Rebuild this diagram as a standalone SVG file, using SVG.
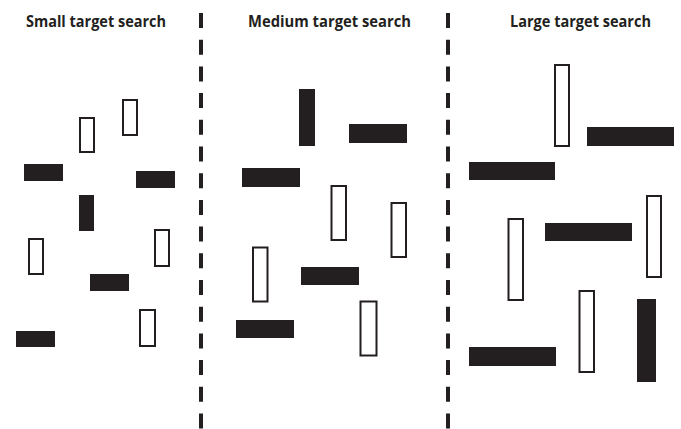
<svg xmlns="http://www.w3.org/2000/svg" width="681" height="429" viewBox="0 0 681 429">
<style>
.t{font-family:"Open Sans","Liberation Sans",sans-serif;font-weight:bold;font-size:15.5px;fill:#231f20}
.f{fill:#231f20}
.o{fill:#fff;stroke:#231f20;stroke-width:2}
.d{stroke:#231f20;stroke-width:4;stroke-dasharray:15 11.7;fill:none}
</style>
<rect width="681" height="429" fill="#fff"/>
<g id="connectors">
<line class="d" x1="201" y1="13" x2="201" y2="429"/>
<line class="d" x1="448" y1="13" x2="448" y2="429"/>
</g>
<g id="title-small"><text class="t" x="26" y="27" textLength="140" lengthAdjust="spacingAndGlyphs">Small target search</text></g>
<g id="title-medium"><text class="t" x="248" y="27" textLength="163" lengthAdjust="spacingAndGlyphs">Medium target search</text></g>
<g id="title-large"><text class="t" x="510" y="27" textLength="141" lengthAdjust="spacingAndGlyphs">Large target search</text></g>
<g id="small">
<rect class="o" x="80" y="118" width="14" height="34"/>
<rect class="o" x="123" y="100" width="14" height="35"/>
<rect class="f" x="24" y="164" width="39" height="17"/>
<rect class="f" x="136" y="171" width="39" height="17"/>
<rect class="f" x="79" y="195" width="15" height="36"/>
<rect class="o" x="29" y="239" width="14" height="35"/>
<rect class="o" x="155" y="230" width="14" height="36"/>
<rect class="f" x="90" y="274" width="39" height="17"/>
<rect class="o" x="140" y="310" width="15" height="36"/>
<rect class="f" x="16" y="331" width="39" height="16"/>
</g>
<g id="medium">
<rect class="f" x="299" y="89" width="16" height="57"/>
<rect class="f" x="349" y="124" width="58" height="19"/>
<rect class="f" x="242" y="168" width="58" height="19"/>
<rect class="o" x="331.5" y="186" width="14.5" height="54"/>
<rect class="o" x="391.5" y="203" width="14.5" height="54"/>
<rect class="o" x="253" y="247.5" width="14.5" height="54"/>
<rect class="f" x="301" y="267" width="58" height="18"/>
<rect class="o" x="360.5" y="301.5" width="16" height="54"/>
<rect class="f" x="236" y="320" width="58" height="18"/>
</g>
<g id="large">
<rect class="o" x="555" y="65" width="14" height="81"/>
<rect class="f" x="587" y="127" width="87" height="19"/>
<rect class="f" x="469" y="162" width="86" height="18"/>
<rect class="o" x="647" y="196" width="14" height="81"/>
<rect class="o" x="508.5" y="219" width="14.5" height="81"/>
<rect class="f" x="545" y="223" width="87" height="18"/>
<rect class="o" x="579.5" y="291" width="14.5" height="81"/>
<rect class="f" x="637" y="299" width="19" height="83"/>
<rect class="f" x="469" y="347" width="87" height="19"/>
</g>
</svg>
